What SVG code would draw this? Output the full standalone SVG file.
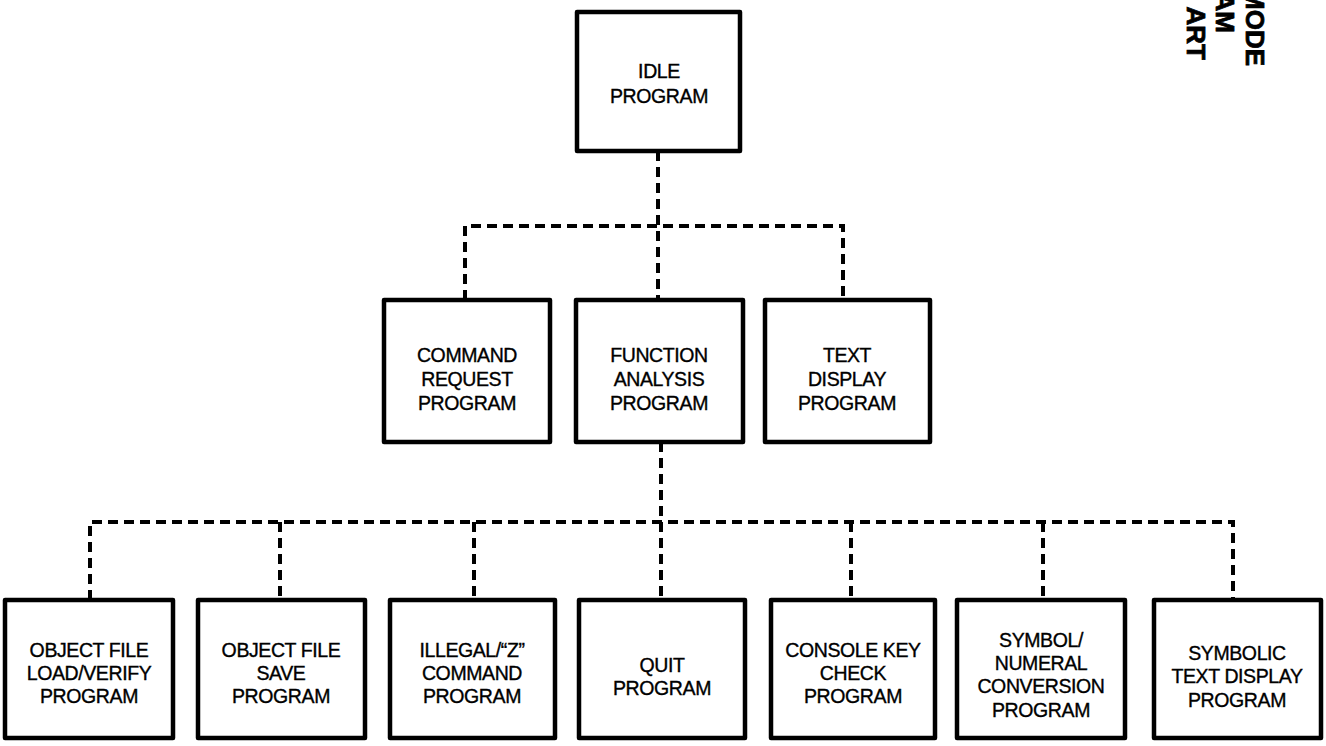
<svg xmlns="http://www.w3.org/2000/svg" width="1326" height="746" viewBox="0 0 1326 746">
  <defs>
    <style>
      .box { fill: #fff; stroke: #000; stroke-width: 4.5; stroke-linejoin: round; }
      .lbl { font-family: "Liberation Sans", Arial, sans-serif; font-size: 19.5px; fill: #000; stroke: #000; stroke-width: 0.35px; text-anchor: middle; letter-spacing: -0.4px; }
      .link { fill: none; stroke: #000; stroke-width: 4; stroke-dasharray: 10 6; }
      .title { font-family: "Liberation Sans", Arial, sans-serif; font-size: 26px; font-weight: bold; fill: #000; stroke: #000; stroke-width: 0.8px; text-anchor: end; }
    </style>
  </defs>
  <rect width="1326" height="746" fill="#fff"/>

  <!-- connectors -->
  <g id="connectors">
    <path class="link" d="M658 151 V300"/>
    <path class="link" d="M465 300 V226 H843 V300"/>
    <path class="link" d="M661 442 V600"/>
    <path class="link" d="M90 600 V522 H1233 V600"/>
    <path class="link" d="M280 522 V600"/>
    <path class="link" d="M474 522 V600"/>
    <path class="link" d="M851 522 V600"/>
    <path class="link" d="M1043 522 V600"/>
  </g>

  <!-- top level -->
  <g id="idle">
    <rect class="box" x="577" y="12" width="163" height="139"/>
    <text class="lbl" x="659" y="78">IDLE</text>
    <text class="lbl" x="659" y="103">PROGRAM</text>
  </g>

  <!-- second level -->
  <g id="command-request">
    <rect class="box" x="384" y="300" width="166" height="142"/>
    <text class="lbl" x="467" y="362">COMMAND</text>
    <text class="lbl" x="467" y="386">REQUEST</text>
    <text class="lbl" x="467" y="410">PROGRAM</text>
  </g>
  <g id="function-analysis">
    <rect class="box" x="576" y="300" width="167" height="142"/>
    <text class="lbl" x="659" y="362">FUNCTION</text>
    <text class="lbl" x="659" y="386">ANALYSIS</text>
    <text class="lbl" x="659" y="410">PROGRAM</text>
  </g>
  <g id="text-display">
    <rect class="box" x="765" y="300" width="165" height="142"/>
    <text class="lbl" x="847" y="362">TEXT</text>
    <text class="lbl" x="847" y="386">DISPLAY</text>
    <text class="lbl" x="847" y="410">PROGRAM</text>
  </g>

  <!-- third level -->
  <g id="object-load">
    <rect class="box" x="5" y="600" width="168" height="138"/>
    <text class="lbl" x="89" y="657">OBJECT FILE</text>
    <text class="lbl" x="89" y="680">LOAD/VERIFY</text>
    <text class="lbl" x="89" y="703">PROGRAM</text>
  </g>
  <g id="object-save">
    <rect class="box" x="198" y="600" width="167" height="138"/>
    <text class="lbl" x="281" y="657">OBJECT FILE</text>
    <text class="lbl" x="281" y="680">SAVE</text>
    <text class="lbl" x="281" y="703">PROGRAM</text>
  </g>
  <g id="illegal-z">
    <rect class="box" x="390" y="600" width="165" height="138"/>
    <text class="lbl" x="472" y="657">ILLEGAL/“Z”</text>
    <text class="lbl" x="472" y="680">COMMAND</text>
    <text class="lbl" x="472" y="703">PROGRAM</text>
  </g>
  <g id="quit">
    <rect class="box" x="579" y="600" width="166" height="138"/>
    <text class="lbl" x="662" y="672">QUIT</text>
    <text class="lbl" x="662" y="695">PROGRAM</text>
  </g>
  <g id="console-key">
    <rect class="box" x="771" y="600" width="164" height="138"/>
    <text class="lbl" x="853" y="657">CONSOLE KEY</text>
    <text class="lbl" x="853" y="680">CHECK</text>
    <text class="lbl" x="853" y="703">PROGRAM</text>
  </g>
  <g id="symbol-numeral">
    <rect class="box" x="957" y="600" width="168" height="138"/>
    <text class="lbl" x="1041" y="647">SYMBOL/</text>
    <text class="lbl" x="1041" y="670">NUMERAL</text>
    <text class="lbl" x="1041" y="693">CONVERSION</text>
    <text class="lbl" x="1041" y="717">PROGRAM</text>
  </g>
  <g id="symbolic-text">
    <rect class="box" x="1154" y="600" width="167" height="138"/>
    <text class="lbl" x="1237" y="660">SYMBOLIC</text>
    <text class="lbl" x="1237" y="683">TEXT DISPLAY</text>
    <text class="lbl" x="1237" y="707">PROGRAM</text>
  </g>

  <!-- rotated caption, running off the top edge -->
  <g id="caption">
    <text class="title" transform="translate(1246 66) rotate(90)">MODE</text>
    <text class="title" transform="translate(1216 33) rotate(90)">AM</text>
    <text class="title" transform="translate(1187 60) rotate(90)">ART</text>
  </g>
</svg>
